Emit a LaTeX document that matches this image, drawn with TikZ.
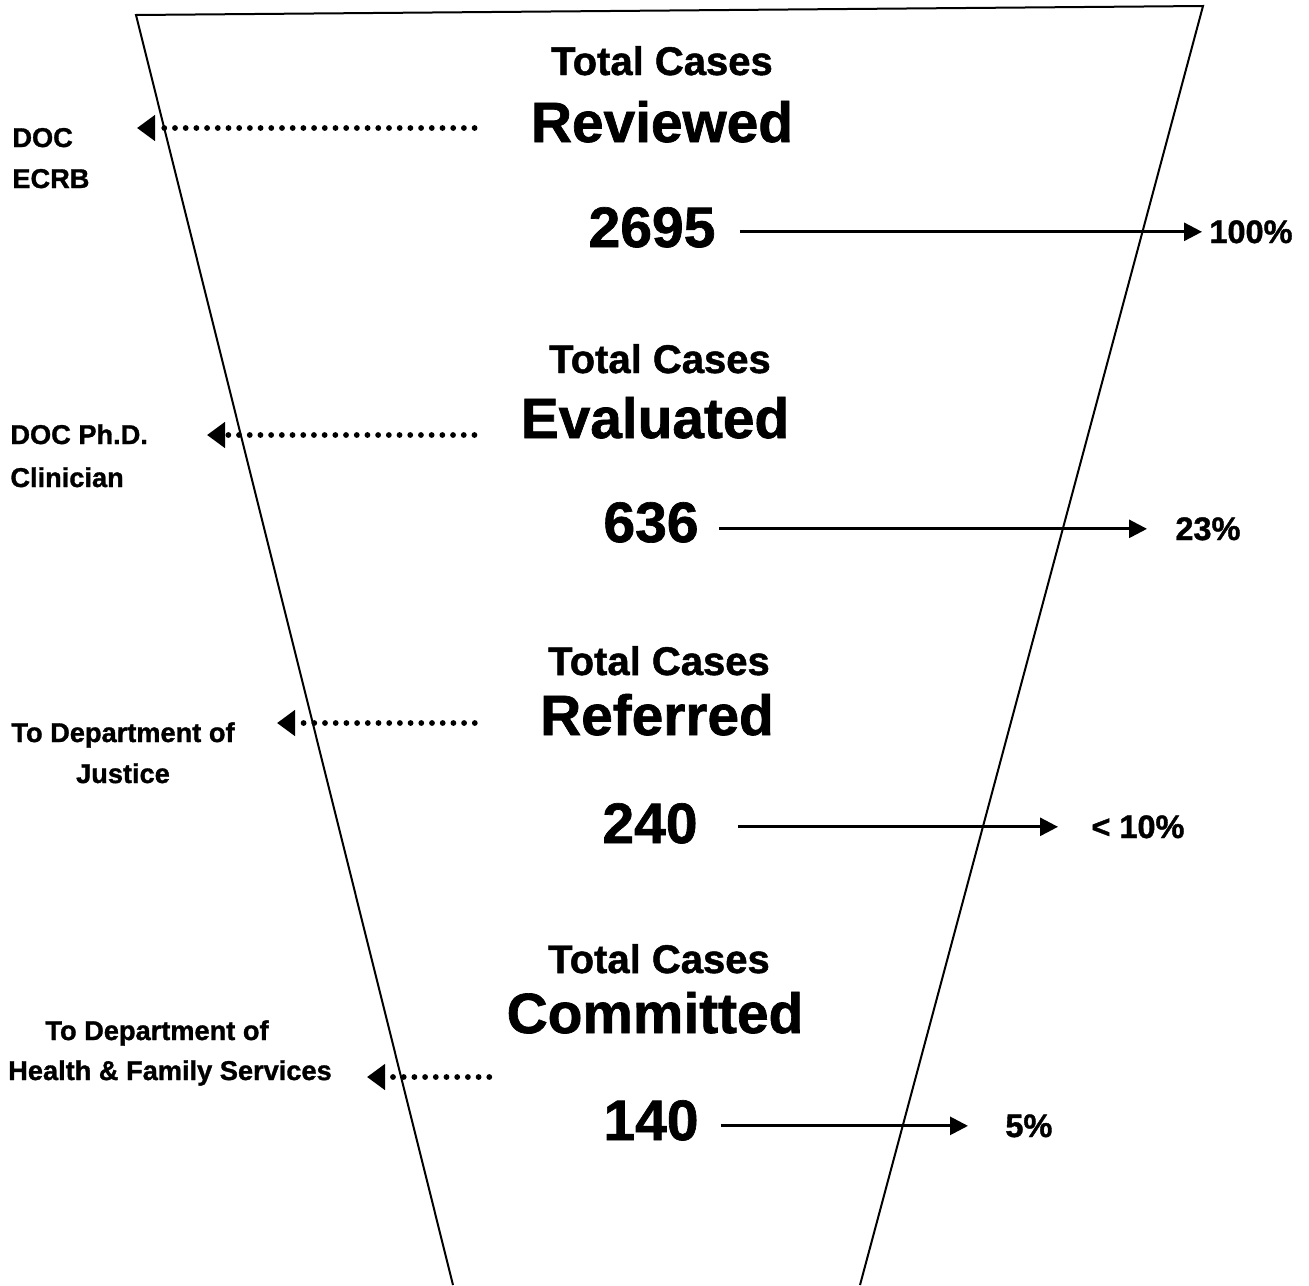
\documentclass[tikz,border=0pt]{standalone}
\usepackage{fontspec}
\setmainfont{Liberation Sans}[BoldFeatures={FakeBold=1.2}]
\usepackage{tikz}
\usetikzlibrary{arrows.meta}

\begin{document}
\begin{tikzpicture}[x=0.5pt,y=-0.5pt]
      \tikzstyle{arrow} = [line width=1.4pt,-{Triangle[length=9pt,width=9pt]}]
      \tikzstyle{dotarrow} = [line width=2.9pt,line cap=round,dash pattern=on 0pt off 5.35pt,-{Triangle[length=9pt,width=12.5pt]}]
      \tikzstyle{title} = [anchor=base, inner sep=0pt, font=\fontsize{20pt}{24pt}\selectfont\bfseries]
      \tikzstyle{stage} = [anchor=base, inner sep=0pt, font=\fontsize{28.4pt}{34pt}\selectfont\bfseries]
      \tikzstyle{count} = [anchor=base, inner sep=0pt, font=\fontsize{28.5pt}{34pt}\selectfont\bfseries]
      \tikzstyle{share} = [anchor=base west, inner sep=0pt, font=\fontsize{16.25pt}{20pt}\selectfont\bfseries]
      \tikzstyle{agency} = [inner sep=0pt, font=\fontsize{13.6pt}{16pt}\selectfont\bfseries]
      \useasboundingbox (0,0) rectangle (1309,1285);
      % funnel
      \draw [line width=1pt] (453,1285) -- (136,15) -- (1203,6) -- (860,1285);
      % stages
      \node (title-A) [title] at (662,75) {Total Cases};
      \node (stage-A) [stage] at (662,142) {Reviewed};
      \node (count-A) [count] at (652,247) {2695};
      \node (share-A) [share] at (1209,243) {100\%};
      \node (title-B) [title] at (660,373) {Total Cases};
      \node (stage-B) [stage] at (655,438) {Evaluated};
      \node (count-B) [count] at (651,542) {636};
      \node (share-B) [share] at (1175,540) {23\%};
      \node (title-C) [title] at (659,675) {Total Cases};
      \node (stage-C) [stage] at (657,735) {Referred};
      \node (count-C) [count] at (650,843) {240};
      \node (share-C) [share] at (1091,838) {< 10\%};
      \node (title-D) [title] at (659,973) {Total Cases};
      \node (stage-D) [stage] at (655,1033) {Committed};
      \node (count-D) [count] at (651,1140) {140};
      \node (share-D) [share] at (1005,1137) {5\%};
      % agencies
      \node (agency-A1) [agency, anchor=base west] at (12,147) {DOC};
      \node (agency-A2) [agency, anchor=base west] at (12,188) {ECRB};
      \node (agency-B1) [agency, anchor=base west] at (10,444) {DOC Ph.D.};
      \node (agency-B2) [agency, anchor=base west] at (10,487) {Clinician};
      \node (agency-C1) [agency, anchor=base] at (123,742) {To Department of};
      \node (agency-C2) [agency, anchor=base] at (123,783) {Justice};
      \node (agency-D1) [agency, anchor=base] at (157,1040) {To Department of};
      \node (agency-D2) [agency, anchor=base] at (170,1080) {Health \& Family Services};
      \coordinate (tip-A) at (137,128);
      \coordinate (tip-B) at (207,435);
      \coordinate (tip-C) at (277,723);
      \coordinate (tip-D) at (367,1077);
      \draw [dotarrow, shorten <=28pt] (stage-A.west |- tip-A) -- (tip-A);
      \draw [dotarrow, shorten <=23pt] (stage-B.west |- tip-B) -- (tip-B);
      \draw [dotarrow, shorten <=32.5pt] (stage-C.west |- tip-C) -- (tip-C);
      \draw [dotarrow, shorten <=8.5pt] (stage-D.west |- tip-D) -- (tip-D);
      \draw [arrow, shorten <=12pt, shorten >=3.5pt] (count-A.east |- share-A.west) -- (share-A.west);
      \draw [arrow, shorten <=10pt, shorten >=14pt] (count-B.east |- share-B.west) -- (share-B.west);
      \draw [arrow, shorten <=20pt, shorten >=16.5pt] (count-C.east |- share-C.west) -- (share-C.west);
      \draw [arrow, shorten <=11pt, shorten >=18.5pt] (count-D.east |- share-D.west) -- (share-D.west);
\end{tikzpicture}
\end{document}
